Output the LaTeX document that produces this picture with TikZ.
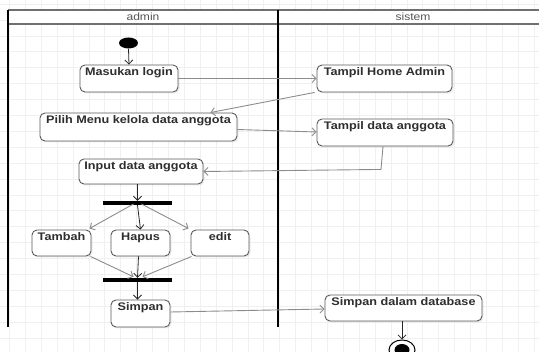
\documentclass[tikz,border=0pt]{standalone}
\usepackage{fontspec}
\setmainfont{Liberation Sans}[FakeStretch=1.15]
\usetikzlibrary{arrows.meta,calc,shadows,shapes.geometric}
\definecolor{gridc}{HTML}{F0F0F0}
\definecolor{linec}{HTML}{8C8C8C}
\definecolor{boxc}{HTML}{5A5A5A}
\definecolor{txtc}{HTML}{2E2E2E}
\definecolor{lanec}{HTML}{707070}
\definecolor{headtxt}{HTML}{555555}

\begin{document}
\begin{tikzpicture}[x=1pt,y=-1pt,
  act/.style n args={2}{draw=boxc, line width=0.9pt, rounded corners=5pt,
    fill=white, drop shadow={opacity=0.15,shadow xshift=1.5pt,shadow yshift=-1.5pt},
    inner sep=0pt, minimum width=#1, text height=11pt, text depth=#2,
    font=\fontsize{11}{13}\selectfont\bfseries, text=txtc},
  syncbar/.style={fill=black, draw=none, inner sep=0pt, minimum width=69pt, minimum height=4pt},
  flowg/.style={draw=linec, line width=0.9pt, -{Straight Barb[length=4pt,width=8pt]}},
  flowk/.style={draw=black!85, line width=0.8pt, -{Straight Barb[length=4pt,width=8pt]}},
  lanelbl/.style={font=\fontsize{10.5}{12}\selectfont, text=headtxt, inner sep=0pt}
]
\useasboundingbox (0,0) rectangle (539,352);
\clip (0,0) rectangle (539,352);

% background grid
\foreach \gx in {0,...,33} {
  \draw[gridc, line width=0.5pt] ({9.3+15.9*\gx},0) -- ({9.3+15.9*\gx},352);
}
\foreach \gy in {0,...,22} {
  \draw[gridc, line width=0.5pt] (0,{4+15.9*\gy}) -- (539,{4+15.9*\gy});
}

% swimlanes
\fill[white] (8,10) rectangle (539,24);
\draw[lanec, line width=1.5pt] (8,10) -- (539,10);
\draw[lanec, line width=1.5pt] (8,24) -- (539,24);
\draw[black, line width=2.4pt] (8,10) -- (8,327);
\draw[black, line width=2.4pt] (278,10) -- (278,327);
\node[lanelbl] (laneA) at (143,17) {admin};
\node[lanelbl] (laneB) at (413,17) {sistem};

% start / end
\node[ellipse, fill=black, inner sep=0pt, minimum width=19pt, minimum height=11pt] (start) at (128.5,43) {};

% actions
\node[act={98pt}{16pt}]  (login)  at (129,78.5)   {Masukan login};
\node[act={135pt}{16pt}] (home)   at (384.5,78.5) {Tampil Home Admin};
\node[act={197pt}{17pt}] (pilih)  at (138.5,127)  {Pilih Menu kelola data anggota};
\node[act={136pt}{16pt}] (tdata)  at (385,132.5)  {Tampil data anggota};
\node[act={124pt}{14pt}] (input)  at (141,171.5)  {Input data anggota};
\node[act={59pt}{15pt}]  (tambah) at (61.5,243)   {Tambah};
\node[act={59pt}{15pt}]  (hapus)  at (140.5,243)  {Hapus};
\node[act={58pt}{15pt}]  (edit)   at (220,243)    {edit};
\node[act={59pt}{16pt}]  (simpan) at (140.5,313.5){Simpan};
\node[act={157pt}{15pt}] (db)     at (403.5,308)  {Simpan dalam database};

% fork / join bars
\node[syncbar] (fork) at (137.5,203) {};
\node[syncbar] (join) at (137.5,280) {};

% final node
\node[ellipse, draw=black, line width=1pt, fill=white, inner sep=0pt, minimum width=26pt, minimum height=20pt] (final) at (402,350) {};
\node[ellipse, fill=black, inner sep=0pt, minimum width=15pt, minimum height=12pt] (finalin) at (final.center) {};

% flows
\draw[flowk] (start.south) -- (login.north);
\draw[flowg] (login.east) -- (home.west);
\draw[flowg] ($(home.south west)+(-2,0)$) -- ($(pilih.north east)+(-27,0)$);
\draw[flowg] ($(pilih.east)+(0,2.5)$) -- ($(tdata.west)+(0,-0.5)$);
\draw[flowg] ($(tdata.south)+(-2,0)$) -- ($(tdata.south)+(-4,23)$) -- (input.east);
\draw[flowk] (input.south -| fork.north) -- (fork.north);
\draw[flowg] ($(fork.center)+(-4,1)$) -- ($(tambah.north east)+(-2,-1)$);
\draw[flowk] (fork.south) -- (hapus.north);
\draw[flowg] ($(fork.center)+(4,1)$) -- ($(edit.north west)+(-2,-1)$);
\draw[flowg] ($(tambah.south east)+(-1,0)$) -- ($(join.north)+(-4,-1)$);
\draw[flowk] ($(hapus.south)+(-2,0)$) -- (join.north);
\draw[flowg] ($(edit.south west)+(1,0)$) -- ($(join.north)+(5,-1)$);
\draw[flowk] (join.south) -- (join.south |- simpan.north);
\draw[flowg] ($(simpan.east)+(0,-1.5)$) -- ($(db.west)+(0,1)$);
\draw[flowk] (db.south -| final.north) -- (final.north);
\end{tikzpicture}
\end{document}
